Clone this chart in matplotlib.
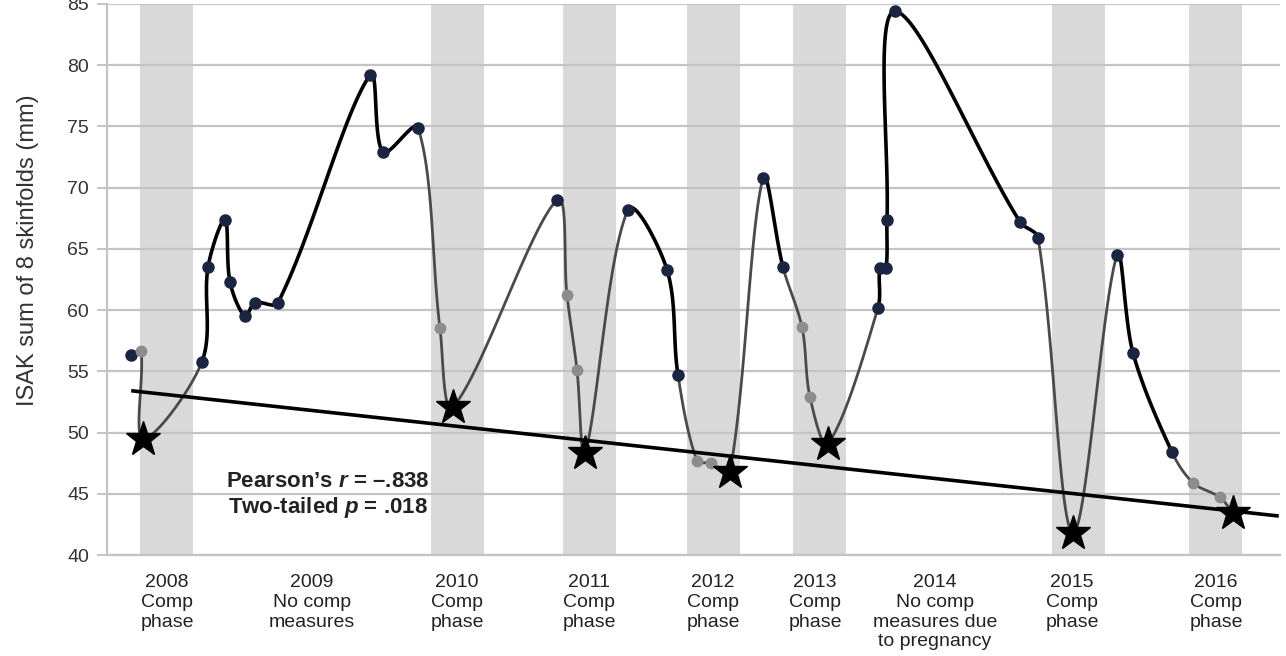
import numpy as np
import matplotlib.pyplot as plt

plt.rcParams["font.family"] = ["Liberation Sans", "DejaVu Sans"]
plt.rcParams["mathtext.fontset"] = "custom"
plt.rcParams["mathtext.it"] = "Liberation Sans:italic:bold"
plt.rcParams["mathtext.rm"] = "Liberation Sans:bold"

# time axis (arbitrary units, left to right) and ISAK sum of 8 skinfolds (mm)
t = [2.4, 3.4, 3.6, 9.5, 10.1, 11.8, 12.3, 13.8, 14.8, 17.1,
     26.3, 27.6, 31.1, 33.3, 34.6, 45.0, 46.0, 47.0, 47.8, 52.1,
     56.0, 57.1, 59.0, 60.4, 62.3, 65.6, 67.6, 69.5, 70.3, 72.1,
     77.1, 77.3, 77.9, 78.0, 78.8, 91.3, 93.1, 96.6, 101.0, 102.6,
     106.5, 108.6, 111.3, 112.6]
skinfolds = [56.3, 56.7, 49.5, 55.8, 63.5, 67.4, 62.3, 59.5, 60.6, 60.6,
             79.2, 72.9, 74.9, 58.5, 52.1, 69.0, 61.2, 55.1, 48.3, 68.2,
             63.3, 54.7, 47.7, 47.5, 46.8, 70.8, 63.5, 58.6, 52.9, 49.1,
             60.2, 63.4, 63.4, 67.4, 84.4, 67.2, 65.9, 41.8, 64.5, 56.5,
             48.4, 45.9, 44.7, 43.4]
# n = measurement outside comp phase, g = during comp phase, s = competition
kind = list("ngsnnnnnnn" "nnngsnggsn" "nnggsnnggs" "nnnnnnnsnn" "nggs")

band_start = [3.3, 32.4, 45.6, 58.0, 68.6, 94.5, 108.2]
band_width = 5.3

label_x = [6.0, 20.5, 35.0, 48.2, 60.6, 70.8, 82.8, 96.5, 110.9]
labels = ["2008\nComp\nphase", "2009\nNo comp\nmeasures", "2010\nComp\nphase",
          "2011\nComp\nphase", "2012\nComp\nphase", "2013\nComp\nphase",
          "2014\nNo comp\nmeasures due\nto pregnancy", "2015\nComp\nphase",
          "2016\nComp\nphase"]

trend_x = [2.6, 117.0]
trend_y = [53.4, 43.2]


def smooth_segments(xs, ys, n=40, sx=10.0, sy=12.25):
    # smoothed line like Excel: Bezier segments, tangents scaled by chord length
    # (done in screen-like units so close points do not loop)
    p = np.column_stack([np.asarray(xs) * sx, np.asarray(ys) * sy])
    pts = np.vstack([p[0], p, p[-1]])
    L = np.linalg.norm(np.diff(pts, axis=0), axis=1)
    u = np.linspace(0, 1, n)[:, None]
    segs = []
    for i in range(len(p) - 1):
        p0, p1, p2, p3 = pts[i], pts[i + 1], pts[i + 2], pts[i + 3]
        la, lb, lc = L[i], L[i + 1], L[i + 2]
        c1 = p1 + (p2 - p0) * lb / (3 * (la + lb)) if la + lb > 0 else p1
        c2 = p2 - (p3 - p1) * lb / (3 * (lb + lc)) if lb + lc > 0 else p2
        b = (1 - u) ** 3 * p1 + 3 * (1 - u) ** 2 * u * c1 + 3 * (1 - u) * u ** 2 * c2 + u ** 3 * p2
        segs.append(b / [sx, sy])
    return segs


fig = plt.figure(figsize=(12.86, 6.56), dpi=100)
ax = fig.add_axes([107 / 1286, 101 / 656, 1173 / 1286, 551 / 656])

# comp phase bands
for s in band_start:
    ax.axvspan(s, s + band_width, color="#d9d9d9", lw=0, zorder=0)

ax.set_ylim(40, 85)
ax.set_xlim(0, 117.3)
ax.set_yticks(np.arange(40, 86, 5))
ax.yaxis.grid(True, color="#c4c4c4", lw=1.6, zorder=0.5)
ax.set_axisbelow(True)

segs = smooth_segments(t, skinfolds)
for i, seg in enumerate(segs):
    if kind[i] == "n" and kind[i + 1] == "n":
        ax.plot(seg[:, 0], seg[:, 1], color="black", lw=2.6, zorder=3, solid_capstyle="round")
    else:
        ax.plot(seg[:, 0], seg[:, 1], color="#4a4a4a", lw=2.0, zorder=2, solid_capstyle="round")

ax.plot(trend_x, trend_y, color="black", lw=2.6, zorder=4)

tn = [x for x, k in zip(t, kind) if k == "n"]
vn = [v for v, k in zip(skinfolds, kind) if k == "n"]
tg = [x for x, k in zip(t, kind) if k == "g"]
vg = [v for v, k in zip(skinfolds, kind) if k == "g"]
ts = [x for x, k in zip(t, kind) if k == "s"]
vs = [v for v, k in zip(skinfolds, kind) if k == "s"]
ax.plot(tn, vn, "o", color="#1b2440", ms=8, zorder=5)
ax.plot(tg, vg, "o", color="#8c8c8c", ms=7.5, zorder=5)
ax.plot(ts, vs, "*", color="black", ms=26, zorder=6)

ax.text(22.1, 46.0, "Pearson’s $r$ = –.838", ha="center", va="center",
        fontsize=16, fontweight="bold", color="#222222", zorder=7)
ax.text(22.1, 43.9, "Two-tailed $p$ = .018", ha="center", va="center",
        fontsize=16, fontweight="bold", color="#222222", zorder=7)

ax.set_xticks(label_x)
ax.set_xticklabels(labels, fontsize=14, color="#222222", linespacing=1.2)
ax.tick_params(axis="x", length=0, pad=14)
ax.tick_params(axis="y", length=7, width=1.4, color="#c4c4c4", pad=6,
               labelsize=14, labelcolor="#333333")
ax.set_ylabel("ISAK sum of 8 skinfolds (mm)", fontsize=17, color="#333333")
ax.yaxis.set_label_coords(-0.058, 0.553)

for side in ["top", "right"]:
    ax.spines[side].set_visible(False)
for side in ["left", "bottom"]:
    ax.spines[side].set_color("#c4c4c4")
    ax.spines[side].set_linewidth(1.6)

plt.savefig("out.png", dpi=100)
plt.close()
